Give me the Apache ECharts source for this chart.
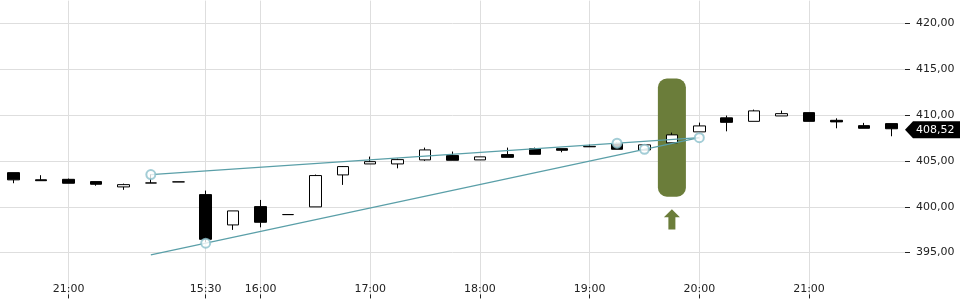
<!DOCTYPE html>
<html><head><meta charset="utf-8">
<script src="https://cdn.jsdelivr.net/npm/echarts@6/dist/echarts.min.js"></script>
<style>html,body{margin:0;padding:0;background:#fff}#c{width:960px;height:300px}</style>
</head><body><div id="c"></div>
<script>
const categories = [
  '05-06 20:30','05-06 20:45','05-06 21:00','05-06 21:15','05-06 21:30','05-06 21:45','05-06 22:00',
  '05-07 15:30','05-07 15:45','05-07 16:00','05-07 16:15','05-07 16:30','05-07 16:45',
  '05-07 17:00','05-07 17:15','05-07 17:30','05-07 17:45','05-07 18:00','05-07 18:15',
  '05-07 18:30','05-07 18:45','05-07 19:00','05-07 19:15','05-07 19:30','05-07 19:45',
  '05-07 20:00','05-07 20:15','05-07 20:30','05-07 20:45','05-07 21:00','05-07 21:15',
  '05-07 21:30','05-07 21:45'
];
const xTickLabels = ['05-06 21:00','05-07 15:30','05-07 16:00','05-07 17:00','05-07 18:00','05-07 19:00','05-07 20:00','05-07 21:00'];
const opens  = [403.73,402.95,403.00,402.75,402.17,402.60,402.72,401.33,398.02,400.02,399.15,399.99,403.48,404.68,404.68,405.12,405.59,405.12,405.70,406.35,406.35,406.55,406.90,406.21,406.98,408.18,409.71,409.33,409.92,410.28,409.44,408.86,409.08];
const closes = [402.94,402.85,402.57,402.46,402.42,402.60,402.72,396.45,399.55,398.31,399.15,403.41,404.39,404.93,405.15,406.21,405.08,405.45,405.40,405.73,406.17,406.60,406.28,406.76,407.85,408.83,409.22,410.47,410.17,409.33,409.27,408.57,408.52];
const lows   = [402.57,402.85,402.57,402.30,401.85,402.60,402.72,396.12,397.48,397.76,399.15,399.99,402.39,404.68,404.20,405.01,405.08,405.12,405.40,405.73,405.95,406.55,406.28,406.21,406.98,408.18,408.24,409.33,409.92,409.33,408.57,408.57,407.70];
const highs  = [403.73,403.45,403.08,402.75,402.53,403.55,402.72,401.77,399.55,400.75,399.15,403.52,404.45,405.48,405.26,406.46,406.03,405.45,406.46,406.46,406.35,406.79,407.00,406.76,408.10,409.19,409.96,410.61,410.50,410.28,409.66,409.16,409.08];
const upperTrend = [[5, 403.52], [25, 407.55]];
const lowerTrend = [[5, 394.75], [25, 407.55]];
const trendPoints = [[5, 403.52], [22, 406.95], [7, 396.03], [23, 406.27], [25, 407.55]];
const signalBar = [[24, 401.10, 414.00]];
const signalArrow = [[24, 399.73, 397.51]];
const lastPrice = [[32, 408.52]];
const yTicks = { min: 390, max: 422.51, step: 5 };

const fmt = v => v.toFixed(2).replace('.', ',');
const candleData = opens.map((o, i) => [o, closes[i], lows[i], highs[i]]);
const showTick = (idx) => xTickLabels.indexOf(categories[idx]) >= 0;

const chart = echarts.init(document.getElementById('c'));
chart.setOption({
  animation: false,
  textStyle: { fontFamily: 'DejaVu Sans' },
  grid: { left: 0, right: 55, top: 0.6, bottom: 1.6, containLabel: false },
  xAxis: {
    type: 'category', data: categories, boundaryGap: true,
    axisLine: { show: false },
    axisTick: { show: true, inside: true, length: 4, alignWithLabel: true, interval: showTick, lineStyle: { color: '#222' } },
    axisLabel: { inside: true, margin: 4, interval: showTick, color: '#222', fontSize: 11, fontFamily: 'DejaVu Sans',
      formatter: v => v.split(' ')[1] },
    splitLine: { show: true, alignWithLabel: true, interval: showTick, lineStyle: { color: '#dedede', width: 1 } }
  },
  yAxis: {
    type: 'value', position: 'right', min: yTicks.min, max: yTicks.max, interval: yTicks.step, scale: true,
    axisLine: { show: false },
    axisTick: { show: true, length: 5, lineStyle: { color: '#222' } },
    axisLabel: { margin: 11, color: '#222', fontSize: 11, fontFamily: 'DejaVu Sans', formatter: fmt, showMinLabel: false, showMaxLabel: false },
    splitLine: { show: true, showMinLine: false, showMaxLine: false, lineStyle: { color: '#dedede', width: 1 } }
  },
  series: [
    {
      type: 'custom', z: 1, data: signalBar, encode: { x: 0, y: [1, 2] },
      renderItem: (params, api) => {
        const x = api.value(0);
        const pTop = api.coord([x, api.value(2)]);
        const pBot = api.coord([x, api.value(1)]);
        const w = api.size([1, 0])[0] + 0.6;
        return { type: 'rect', shape: { x: pTop[0] - w / 2, y: pTop[1], width: w, height: pBot[1] - pTop[1], r: 9 },
          style: { fill: '#6b7d3a' } };
      }
    },
    {
      type: 'custom', z: 1, data: signalArrow, encode: { x: 0, y: [1, 2] },
      renderItem: (params, api) => {
        const x = api.value(0);
        const t = api.coord([x, api.value(1)]);
        const b = api.coord([x, api.value(2)]);
        const cx = t[0], ty = t[1], by = b[1];
        return { type: 'polygon', shape: { points: [[cx, ty], [cx + 8, ty + 8], [cx + 3.5, ty + 8], [cx + 3.5, by], [cx - 3.5, by], [cx - 3.5, ty + 8], [cx - 8, ty + 8]] },
          style: { fill: '#6b7d3a' } };
      }
    },
    {
      type: 'candlestick', z: 2, data: candleData, barWidth: 12,
      itemStyle: { color: '#ffffff', color0: '#000000', borderColor: '#000000', borderColor0: '#000000', borderWidth: 1 }
    },
    {
      type: 'line', z: 3, data: upperTrend, showSymbol: false, lineStyle: { color: '#5a9fa8', width: 1.2 }
    },
    {
      type: 'line', z: 3, data: lowerTrend, showSymbol: false, lineStyle: { color: '#5a9fa8', width: 1.2 }
    },
    {
      type: 'scatter', z: 4, data: trendPoints, symbol: 'emptyCircle', symbolSize: 9,
      itemStyle: { color: '#8cc0cc', borderColor: '#8cc0cc', borderWidth: 1.2 }
    },
    {
      type: 'custom', z: 5, data: lastPrice, encode: { x: 0, y: 1 }, clip: false,
      renderItem: (params, api) => {
        const x = api.value(0), v = api.value(1);
        const p = api.coord([x, v]);
        const re = p[0] + api.size([1, 0])[0] / 2;
        const cy = p[1] + 1;
        return { type: 'group', children: [
          { type: 'polygon', shape: { points: [[re, cy], [re + 8, cy - 8.5], [960, cy - 8.5], [960, cy + 8.5], [re + 8, cy + 8.5]] }, style: { fill: '#000' } },
          { type: 'text', style: { text: fmt(v), x: re + 11, y: cy, verticalAlign: 'middle', fill: '#fff', fontSize: 11, fontFamily: 'DejaVu Sans' } }
        ] };
      }
    }
  ]
});
</script></body></html>
